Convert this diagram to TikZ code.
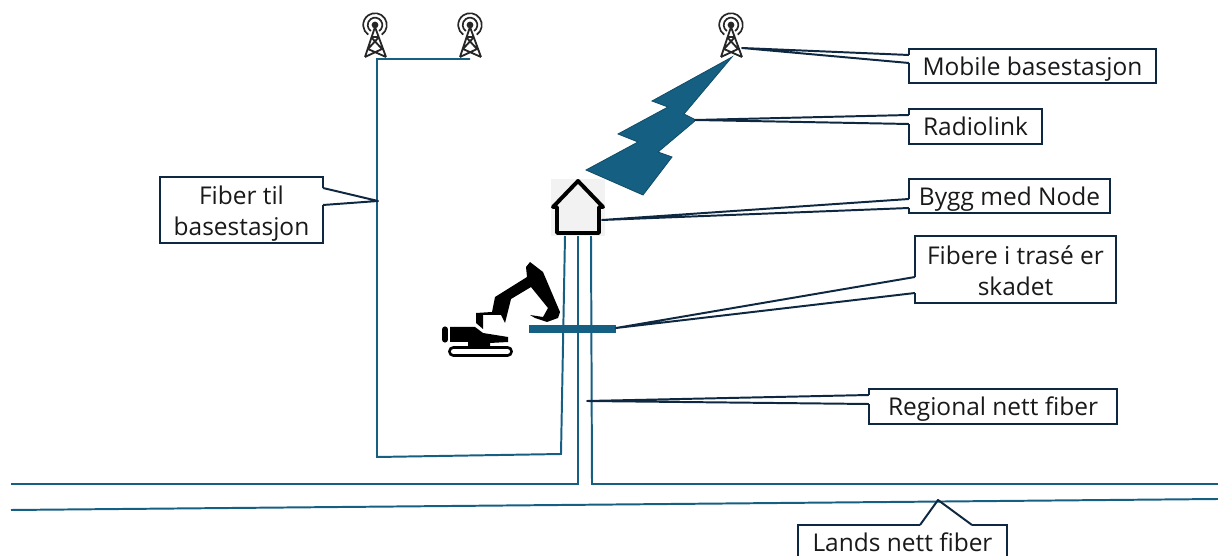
\documentclass[tikz,border=0pt]{standalone}
\usepackage{fontspec}
\setmainfont{Open Sans}
\usepackage{xcolor}
\usetikzlibrary{positioning, calc}
\definecolor{fiberblue}{HTML}{156082}
\definecolor{boxdark}{HTML}{0E2841}
\tikzset{
    tower/.pic={
        \draw[line width=1.3pt, black!85] (0,2) -- (-10,32) (0,2) -- (11,32)
            (-4,12) -- (4,12) (-4,12) -- (7,24) (4,12) -- (-7,24)
            (-7,24) -- (11,32) (7,24) -- (-10,32);
        \fill[black!85] (0,0) circle[radius=2.4pt];
        \foreach \ringrad in {5.2pt, 8.4pt}
            \draw[line width=1.2pt, black!85] ([shift={(-55:\ringrad)}]0,0) arc[start angle=-55, end angle=235, radius=\ringrad];
    }
}
% tip line of a callout, the box border opens between the two feet
\newcommand{\tipline}[3]{
    \draw[white, line width=2.4pt] (#1) -- (#3);
    \draw[tip] (#1) -- (#2) -- (#3);
}
\newcommand{\twolines}[2]{\rule{0pt}{19pt}#1\\#2\rule[-4.2pt]{0pt}{4.2pt}}
\begin{document}
\begin{tikzpicture}[
    x=0.025cm, y=-0.025cm,
    labelbox/.style={rectangle, draw=boxdark, line width=1.6pt, fill=white, inner sep=0pt, outer sep=0pt, align=center, font=\fontsize{17.4}{22}\selectfont, text=black!90,
        execute at begin node={\rule{0pt}{17.5pt}}, execute at end node={\rule[-4.2pt]{0pt}{4.2pt}}},
    tip/.style={draw=boxdark, line width=1.4pt, line join=round},
    fiber/.style={draw=fiberblue, line width=1.4pt},
    node distance=0cm
]
    \useasboundingbox (0,0) rectangle (1218,556);

    % Building and cut
    \node[rectangle, fill=black!5, minimum width=1.35cm, minimum height=1.425cm, inner sep=0pt, outer sep=0pt] (building) at (578,207.5) {};
    \node[rectangle, fill=fiberblue, minimum width=2.175cm, minimum height=0.2cm, inner sep=0pt, outer sep=0pt] (cut) at (572.5,329) {};

    % Fibers
    \coordinate (mast a) at (377,59);
    \coordinate (mast b) at (470,59);
    \coordinate (left end a) at (11,484);
    \coordinate (left end b) at (11,510);
    \coordinate (right end a) at (1218,484);
    \coordinate (right end b) at (1218,499);
    \draw[fiber] (mast b) -- (mast a) -- (377,457) -- (561,454) -- (building.south -| 565,0);
    \draw[fiber] (left end a) -- (578,484) -- (building.south -| 578,0);
    \draw[fiber] (right end a) -- (592,484) -- (building.south -| 591,0);
    \draw[fiber] (left end b) -- (right end b);

    % Towers
    \pic at (375,25) {tower};
    \pic at (470,25) {tower};
    \pic at (731,25) {tower};

    % Radio link
    \draw[fill=fiberblue, draw=fiberblue!80!black, line width=0.6pt] (732,57) -- (652,101) -- (668,107) -- (618,134) -- (638,142) -- (586,170) -- (643,195) -- (672,157) -- (658,152) -- (696,120) -- (684,114) -- cycle;

    % House
    \draw[black, line width=2.8pt, line join=round] (578,181) -- (603,207) -- (599,207) -- (599,233) -- (557,233) -- (557,207) -- (553,207) -- cycle;

    % Excavator
    \draw[black, line width=4.4pt, line cap=round] (445,329.5) -- (445,339.5);
    \fill[black] (450,327) -- (475,327) -- (483,333) -- (508,337) -- (508,342) -- (490,343) -- (490,347) -- (468,347) -- (468,342) -- (450,342) -- cycle;
    \fill[black] (476,313) -- (492,312) -- (495,297) -- (527,277) -- (526,267) -- (530,262) -- (543,272) -- (557,305) -- (560,312) -- (558,318) -- (547,322) -- (535,318) -- (530,315) -- (543,317) -- (548,308) -- (531,287) -- (511,299) -- (505,323) -- (501,315) -- (483,315) -- (483,329) -- (476,323) -- cycle;
    \draw[black, line width=7.8pt, line cap=round] (453.5,351.5) -- (507.5,351.5);
    \draw[white, line width=3.6pt, line cap=round] (453.5,351.5) -- (507.5,351.5);

    % Labels
    \node[labelbox, minimum width=6.175cm, minimum height=0.85cm] (mobile) at (1032.5,66) {Mobile basestasjon};
    \node[labelbox, minimum width=3.325cm, minimum height=0.875cm, below=0.65cm of mobile.south west, anchor=north west] (radio) {Radiolink};
    \node[labelbox, minimum width=5.025cm, minimum height=0.85cm, below=0.875cm of radio.south west, anchor=north west] (bygg) {Bygg med Node};
    \node[labelbox, minimum width=5.025cm, minimum height=1.675cm, below right=0.575cm and 0.15cm of bygg.south west, anchor=north west] (skadet) {\twolines{Fibere i trasé er}{skadet}};
    \node[labelbox, minimum width=6.2cm, minimum height=0.875cm] (regional) at (993,406.5) {Regional nett fiber};
    \node[labelbox, minimum width=5.225cm, minimum height=0.875cm] (lands) at (902.5,542.5) {Lands nett fiber};
    \node[labelbox, minimum width=4.075cm, minimum height=1.65cm] (basefiber) at (241.5,210) {\twolines{Fiber til}{basestasjon}};

    % Callout tips
    \coordinate (mobile tip) at (742,48);
    \coordinate (radio tip) at (695,120);
    \coordinate (bygg tip) at (602,220);
    \coordinate (skadet tip) at (616,328);
    \coordinate (regional tip) at (587,401);
    \coordinate (lands tip) at (938,500);
    \coordinate (basefiber tip) at (378,201);
    \tipline{mobile.west |- 0,55}{mobile tip}{mobile.west |- 0,63}
    \tipline{radio.west |- 0,115}{radio tip}{radio.west |- 0,124}
    \tipline{bygg.west |- 0,199}{bygg tip}{bygg.west |- 0,208}
    \tipline{skadet.west |- 0,277}{skadet tip}{skadet.west |- 0,293}
    \tipline{regional.west |- 0,395}{regional tip}{regional.west |- 0,404}
    \tipline{lands.north -| 920,0}{lands tip}{lands.north -| 972,0}
    \tipline{basefiber.east |- 0,188}{basefiber tip}{basefiber.east |- 0,205}
\end{tikzpicture}
\end{document}
